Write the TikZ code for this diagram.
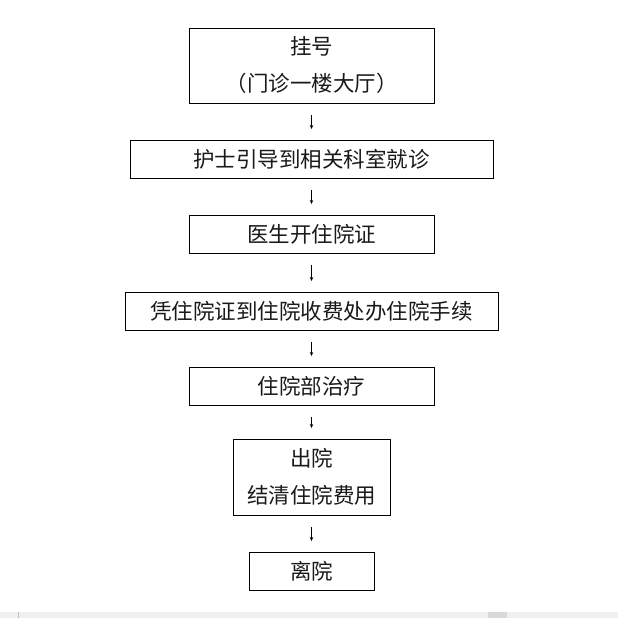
\documentclass[tikz,border=0pt]{standalone}
\usepackage{fontspec}
\newfontfamily\cjk{Noto Sans CJK SC}
\usetikzlibrary{arrows.meta, positioning}

\tikzset{
  stage/.style={draw, line width=0.8pt, inner sep=0pt, outer sep=0pt, align=center,
    font=\cjk\fontsize{21.5}{37}\selectfont, text=black!90, minimum height=38pt},
  flow/.style={-{Stealth[length=4pt,width=3.5pt]}, line width=0.6pt,
    shorten >=11pt, shorten <=12pt}
}

\begin{document}
\begin{tikzpicture}[x=1pt, y=-1pt, node distance=37pt]
  \useasboundingbox (0,0) rectangle (618,618);
  % strip at the bottom edge
  \fill[black!6] (0,612) rectangle (618,618);
  \fill[black!15] (488,612) rectangle (507,618);
  \draw[black!25, line width=0.6pt] (18,612) -- (18,618);

  \node[stage, minimum width=245pt, minimum height=75pt] (reg) at (311.5,65.5)
    {挂号\\（门诊一楼大厅）};
  \node[stage, minimum width=363pt, below=of reg] (guide) {护士引导到相关科室就诊};
  \node[stage, minimum width=245pt, below=of guide] (cert) {医生开住院证};
  \node[stage, minimum width=373pt, below=39pt of cert] (admit) {凭住院证到住院收费处办住院手续};
  \node[stage, minimum width=245pt, below=of admit] (ward) {住院部治疗};
  \node[stage, minimum width=157pt, minimum height=76pt, below=34pt of ward] (out)
    {出院\\结清住院费用};
  \node[stage, minimum width=125pt, below=of out] (leave) {离院};

  \draw[flow] (reg) -- (guide);
  \draw[flow] (guide) -- (cert);
  \draw[flow] (cert) -- (admit);
  \draw[flow] (admit) -- (ward);
  \draw[flow] (ward) -- (out);
  \draw[flow] (out) -- (leave);
\end{tikzpicture}
\end{document}
